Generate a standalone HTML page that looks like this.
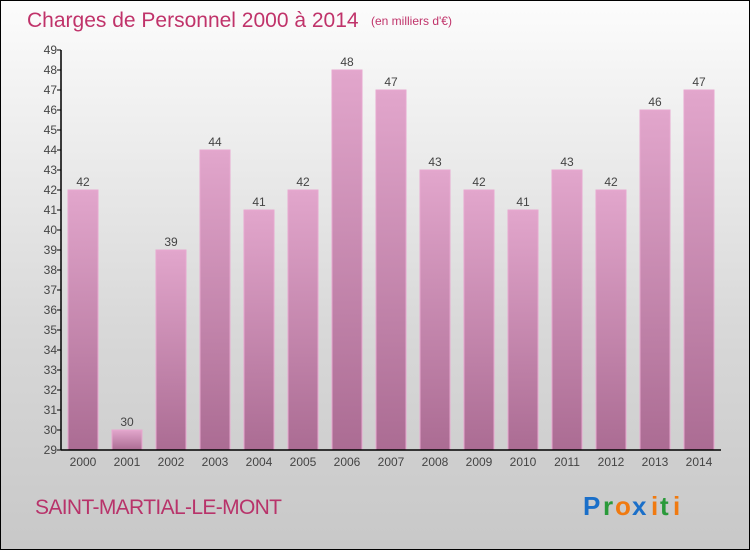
<!DOCTYPE html>
<html><head><meta charset="utf-8"><style>
body{margin:0}
#c{width:750px;height:550px;position:relative;box-sizing:border-box;border:1px solid #000;background:linear-gradient(#fcfcfc,#d8d8d8 60%,#c8c8c8);font-family:"Liberation Sans",sans-serif;overflow:hidden}
</style></head><body>
<div id="c">
<svg width="750" height="550" style="position:absolute;left:-1px;top:-1px" id="svg">
<defs><linearGradient id="g" x1="0" y1="0" x2="0" y2="1"><stop offset="0" stop-color="#e2a6cc"/><stop offset="1" stop-color="#ab6c93"/></linearGradient></defs>
<text x="27" y="27" font-size="21" fill="#c0336a">Charges de Personnel 2000 à 2014</text>
<text x="371" y="25" font-size="12" fill="#c0336a">(en milliers d'€)</text>
<g id="plot"></g>
<text x="35" y="514" font-size="21" fill="#b8336a" textLength="247">SAINT-MARTIAL-LE-MONT</text>
<g font-size="26" font-weight="bold">
<text x="583" y="515" fill="#1a6fc9">P</text><text x="603" y="515" fill="#2a9a3a">r</text><text x="615" y="515" fill="#f07a10">o</text><text x="632" y="515" fill="#1a6fc9">x</text><text x="651" y="515" fill="#f07a10">i</text><text x="660" y="515" fill="#2a9a3a">t</text><text x="673" y="515" fill="#f07a10">i</text></g>
</svg>
</div>
<script>
const categories=["2000","2001","2002","2003","2004","2005","2006","2007","2008","2009","2010","2011","2012","2013","2014"];
const values=[42,30,39,44,41,42,48,47,43,42,41,43,42,46,47];
const yTicks=[29,30,31,32,33,34,35,36,37,38,39,40,41,42,43,44,45,46,47,48,49];
const NS="http://www.w3.org/2000/svg";
const g=document.getElementById('plot');
const x0=61,x1=721,yTop=50,yBot=450,yMin=29,yMax=49;
const slot=(x1-x0)/categories.length;
const y=v=>yBot-(v-yMin)/(yMax-yMin)*(yBot-yTop);
const xc=i=>x0+slot*(i+0.5);
function el(t,a){const e=document.createElementNS(NS,t);for(const k in a)e.setAttribute(k,a[k]);g.appendChild(e);return e;}
values.forEach((v,i)=>{
 const r=el('rect',{x:xc(i)-15,y:y(v),width:30,height:yBot-y(v),fill:'url(#g)',stroke:'#e8a8d0','stroke-width':1});
 
 
 const t=el('text',{x:xc(i),y:y(v)-4,'font-size':12,fill:'#444','text-anchor':'middle'});
 t.textContent=v;
 
 
 const c=el('text',{x:xc(i),y:yBot+16,'font-size':12,fill:'#444','text-anchor':'middle'});
 c.textContent=categories[i];
 
 
});
yTicks.forEach(v=>{
 el('line',{x1:x0-4,x2:x0,y1:y(v),y2:y(v),stroke:'#000'});
 const t=el('text',{x:x0-4,y:y(v)+4,'font-size':12,fill:'#444','text-anchor':'end'});
 t.textContent=v;
 
 
});
const ya=el('line',{x1:x0,x2:x0,y1:yTop,y2:yBot,stroke:'#000','stroke-width':1.5});


const xa=el('line',{x1:x0,x2:x1,y1:yBot,y2:yBot,stroke:'#000','stroke-width':1.5});


</script>
</body></html>
